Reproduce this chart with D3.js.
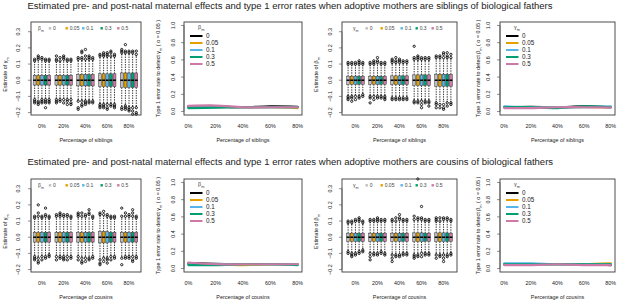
<!DOCTYPE html>
<html><head><meta charset="utf-8">
<script src="https://cdn.jsdelivr.net/npm/d3@7"></script>
<style>
body{margin:0;background:#fff}
svg{display:block}
text{font-family:"Liberation Sans",Arial,Helvetica,sans-serif;fill:#222}
</style>
</head><body>
<svg id="c" width="617" height="302"></svg>
<script>
// ---------------- DATA ----------------
const percentLabels = ["0%", "20%", "40%", "60%", "80%"];
const levels = ["0", "0.05", "0.1", "0.3", "0.5"];
const boxTicks = [-0.2, -0.1, 0.0, 0.1, 0.2, 0.3];
const errTicks = [0.0, 0.2, 0.4, 0.6, 0.8, 1.0];
const rowTitles = [
  "Estimated pre- and post-natal maternal effects and type 1 error rates when adoptive mothers are siblings of biological fathers",
  "Estimated pre- and post-natal maternal effects and type 1 error rates when adoptive mothers are cousins of biological fathers"
];
const rowXTitles = ["Percentage of siblings", "Percentage of cousins"];

// box stats per box (group-major, 5 levels each): [lowWhisker, q1, median, q3, highWhisker]
const sibGammaStats = [
  [-0.11,-0.03,0,0.03,0.11],[-0.11,-0.03,0,0.03,0.12],[-0.11,-0.03,0,0.03,0.12],[-0.11,-0.03,0,0.03,0.11],[-0.11,-0.03,0,0.03,0.11],
  [-0.11,-0.03,0,0.03,0.11],[-0.11,-0.03,0,0.03,0.11],[-0.11,-0.03,0,0.03,0.12],[-0.11,-0.03,0,0.03,0.11],[-0.11,-0.03,0,0.03,0.11],
  [-0.12,-0.035,0,0.035,0.12],[-0.12,-0.035,0,0.035,0.12],[-0.12,-0.035,0,0.035,0.12],[-0.12,-0.035,0,0.035,0.12],[-0.12,-0.035,0,0.035,0.12],
  [-0.14,-0.04,0,0.04,0.14],[-0.14,-0.04,0,0.04,0.14],[-0.14,-0.04,0,0.04,0.14],[-0.14,-0.04,0,0.04,0.14],[-0.14,-0.04,0,0.04,0.14],
  [-0.16,-0.045,0,0.045,0.16],[-0.15,-0.045,0,0.045,0.16],[-0.16,-0.045,0,0.045,0.16],[-0.16,-0.045,0,0.045,0.16],[-0.16,-0.045,0,0.045,0.15]
];
const sibGammaOut = [
  [0.12,0.13,-0.12,-0.13,-0.14],[0.13,0.14,0.15,-0.13,-0.14,-0.15],[0.13,0.14,-0.12,-0.13,-0.14],[0.12,0.13,-0.12,-0.13,-0.14,-0.17],[0.12,0.13,-0.12,-0.13,-0.14],
  [0.12,0.13,0.15,-0.12,-0.13,-0.14],[0.12,0.14,-0.12,-0.13],[0.13,0.14,0.15,-0.12,-0.14],[0.12,0.13,-0.12,-0.13,-0.15],[0.12,0.13,-0.12,-0.14,-0.15],
  [0.13,0.14,-0.13,-0.17,-0.18],[0.13,0.14,0.17,0.18,-0.13,-0.15,-0.16],[0.13,0.15,0.19,-0.13,-0.14,-0.15],[0.13,0.14,0.15,-0.13,-0.14],[0.13,0.14,-0.13,-0.14],
  [0.15,0.16,-0.15,-0.16,-0.17],[0.15,0.16,0.17,-0.15,-0.16,-0.17],[0.15,0.16,0.17,-0.15,-0.17,-0.18],[0.15,0.17,0.18,-0.15,-0.16],[0.15,0.16,-0.15,-0.16,-0.17],
  [0.17,0.18,0.19,-0.17,-0.18],[0.17,0.18,0.22,-0.16,-0.17,-0.18],[0.17,0.18,-0.17,-0.18,-0.19],[0.17,0.18,-0.17,-0.19,-0.21],[0.16,0.18,-0.17,-0.2,-0.21]
];
const sibBetaStats = [
  [-0.09,-0.025,0,0.025,0.09],[-0.09,-0.025,0,0.025,0.09],[-0.09,-0.025,0,0.025,0.09],[-0.09,-0.025,0,0.025,0.09],[-0.08,-0.025,0,0.025,0.09],
  [-0.09,-0.025,0,0.025,0.09],[-0.09,-0.025,0,0.025,0.09],[-0.09,-0.025,0,0.025,0.1],[-0.09,-0.025,0,0.025,0.09],[-0.09,-0.025,0,0.025,0.09],
  [-0.1,-0.027,0,0.027,0.1],[-0.1,-0.027,0,0.027,0.1],[-0.1,-0.027,0,0.027,0.1],[-0.1,-0.027,0,0.027,0.1],[-0.1,-0.027,0,0.027,0.1],
  [-0.12,-0.033,0,0.033,0.12],[-0.12,-0.033,0,0.033,0.12],[-0.12,-0.033,0,0.033,0.12],[-0.12,-0.033,0,0.033,0.12],[-0.12,-0.033,0,0.033,0.12],
  [-0.13,-0.037,0,0.037,0.13],[-0.13,-0.037,0,0.037,0.13],[-0.13,-0.037,0,0.037,0.13],[-0.13,-0.037,0,0.037,0.13],[-0.13,-0.037,0,0.037,0.13]
];
const sibBetaOut = [
  [0.1,0.11,-0.1,-0.11,-0.12],[0.1,0.11,-0.1,-0.11,-0.13],[0.1,0.11,-0.1,-0.12],[0.1,0.11,0.12,-0.1,-0.11],[0.1,0.11,-0.09,-0.1],
  [0.1,0.11,-0.1,-0.11,-0.14],[0.1,0.11,0.12,-0.1,-0.12],[0.11,0.12,0.14,-0.1,-0.11],[0.1,0.11,-0.1,-0.11],[0.1,0.11,-0.1,-0.11,-0.12],
  [0.11,0.12,0.13,-0.11,-0.12],[0.11,0.12,0.14,-0.11,-0.12],[0.11,0.12,0.13,-0.11,-0.12],[0.11,0.12,-0.11,-0.12],[0.11,0.12,-0.11,-0.12],
  [0.13,0.14,0.21,-0.13,-0.14],[0.13,0.14,0.15,-0.13,-0.14],[0.13,0.14,-0.13,-0.15,-0.17],[0.13,0.14,-0.13,-0.14],[0.13,0.14,-0.13,-0.14,-0.16],
  [0.14,0.15,-0.14,-0.15,-0.17],[0.14,0.15,-0.15,-0.17],[0.14,0.16,0.17,-0.15,-0.17,-0.18],[0.14,0.15,0.17,-0.14,-0.16],[0.14,0.16,-0.14,-0.15]
];
const cousGammaStats = [
  [-0.11,-0.03,0,0.03,0.11],[-0.12,-0.03,0,0.03,0.12],[-0.11,-0.03,0,0.03,0.11],[-0.11,-0.03,0,0.03,0.12],[-0.1,-0.03,0,0.03,0.11],
  [-0.11,-0.03,0,0.03,0.12],[-0.11,-0.03,0,0.03,0.12],[-0.11,-0.03,0,0.03,0.12],[-0.11,-0.03,0,0.03,0.12],[-0.11,-0.03,0,0.03,0.11],
  [-0.11,-0.03,0,0.03,0.12],[-0.12,-0.03,0,0.03,0.12],[-0.12,-0.03,0,0.03,0.12],[-0.12,-0.03,0,0.03,0.12],[-0.11,-0.03,0,0.03,0.11],
  [-0.13,-0.035,0,0.035,0.13],[-0.12,-0.035,0,0.035,0.13],[-0.12,-0.035,0,0.035,0.12],[-0.11,-0.03,0,0.03,0.11],[-0.11,-0.03,0,0.03,0.11],
  [-0.12,-0.03,0,0.03,0.12],[-0.11,-0.03,0,0.03,0.12],[-0.11,-0.03,0,0.03,0.12],[-0.11,-0.03,0,0.03,0.12],[-0.11,-0.03,0,0.03,0.11]
];
const cousGammaOut = [
  [0.12,0.13,-0.12,-0.13,-0.14],[0.13,0.15,0.2,-0.13,-0.15,-0.16],[0.12,0.13,-0.12,-0.14],[0.13,0.14,0.18,-0.12,-0.13],[0.12,0.13,-0.11,-0.12],
  [0.13,0.14,-0.12,-0.14],[0.13,0.14,0.15,-0.12,-0.13],[0.13,0.14,-0.12,-0.13,-0.14],[0.13,0.14,-0.12,-0.14],[0.12,0.13,-0.12,-0.13],
  [0.13,0.14,0.15,-0.12,-0.14],[0.13,0.15,-0.13,-0.15,-0.16],[0.13,0.14,-0.13,-0.15],[0.14,0.15,0.17,-0.13,-0.14],[0.12,0.13,-0.12,-0.13],
  [0.14,0.15,-0.14,-0.16,-0.17],[0.14,0.16,-0.13,-0.15],[0.13,0.14,-0.13,-0.14,-0.16],[0.12,0.13,-0.12,-0.14],[0.12,0.13,-0.12,-0.13],
  [0.13,0.18,-0.13,-0.17],[0.13,0.15,-0.12,-0.13],[0.13,0.14,-0.12,-0.13],[0.13,0.15,0.17,-0.12,-0.14,-0.15],[0.12,0.13,-0.12,-0.13]
];
const cousBetaStats = [
  [-0.08,-0.025,0,0.025,0.08],[-0.09,-0.025,0,0.025,0.08],[-0.09,-0.025,0,0.025,0.09],[-0.08,-0.025,0,0.025,0.09],[-0.07,-0.025,0,0.025,0.08],
  [-0.09,-0.025,0,0.025,0.09],[-0.09,-0.025,0,0.025,0.09],[-0.09,-0.025,0,0.025,0.09],[-0.08,-0.025,0,0.025,0.09],[-0.09,-0.025,0,0.025,0.09],
  [-0.1,-0.025,0,0.025,0.09],[-0.1,-0.025,0,0.025,0.09],[-0.1,-0.025,0,0.025,0.1],[-0.09,-0.025,0,0.025,0.09],[-0.09,-0.025,0,0.025,0.09],
  [-0.1,-0.027,0,0.027,0.1],[-0.1,-0.027,0,0.027,0.1],[-0.09,-0.027,0,0.027,0.1],[-0.09,-0.025,0,0.025,0.09],[-0.09,-0.025,0,0.025,0.09],
  [-0.1,-0.027,0,0.027,0.09],[-0.1,-0.027,0,0.027,0.09],[-0.1,-0.027,0,0.027,0.1],[-0.1,-0.027,0,0.027,0.1],[-0.09,-0.025,0,0.025,0.09]
];
const cousBetaOut = [
  [0.09,0.1,-0.09,-0.1],[0.09,0.1,-0.1,-0.11,-0.12],[0.1,0.11,-0.1,-0.11],[0.1,0.11,0.12,-0.09,-0.1],[0.09,0.1,-0.08,-0.09],
  [0.1,0.11,-0.1,-0.12,-0.14],[0.1,0.11,-0.1,-0.11],[0.1,0.11,0.12,-0.1,-0.11],[0.1,0.11,-0.09,-0.1],[0.1,0.11,-0.1,-0.11],
  [0.1,0.11,-0.11,-0.13,-0.15],[0.1,0.12,-0.11,-0.12],[0.11,0.12,0.14,-0.11,-0.12],[0.1,0.11,-0.1,-0.11],[0.1,0.11,-0.1,-0.11],
  [0.11,0.13,-0.11,-0.12,-0.13],[0.11,0.12,0.36,-0.11,-0.12],[0.11,0.12,0.19,-0.1,-0.12],[0.1,0.11,-0.1,-0.11],[0.1,0.11,-0.1,-0.11],
  [0.1,0.11,0.12,-0.11,-0.13],[0.1,0.12,-0.11,-0.12],[0.11,0.12,-0.11,-0.13,-0.15],[0.11,0.12,-0.11,-0.12],[0.1,0.11,-0.1,-0.11]
];

// type 1 error rates: one row per level, one value per percentage
const sibGammaErr = [
  [0.06,0.06,0.05,0.06,0.055],
  [0.05,0.05,0.05,0.05,0.04],
  [0.05,0.05,0.05,0.05,0.05],
  [0.04,0.045,0.05,0.05,0.05],
  [0.065,0.07,0.05,0.05,0.05]
];
const sibBetaErr = [
  [0.05,0.055,0.05,0.06,0.05],
  [0.05,0.05,0.05,0.05,0.05],
  [0.06,0.05,0.05,0.05,0.06],
  [0.05,0.05,0.04,0.06,0.05],
  [0.04,0.04,0.05,0.05,0.045]
];
const cousGammaErr = [
  [0.06,0.055,0.05,0.05,0.05],
  [0.05,0.05,0.04,0.05,0.05],
  [0.05,0.05,0.05,0.05,0.05],
  [0.04,0.04,0.05,0.05,0.04],
  [0.07,0.05,0.05,0.05,0.05]
];
const cousBetaErr = [
  [0.05,0.05,0.05,0.05,0.04],
  [0.05,0.05,0.05,0.05,0.06],
  [0.06,0.06,0.05,0.05,0.05],
  [0.05,0.05,0.05,0.05,0.05],
  [0.04,0.04,0.05,0.04,0.04]
];

// ---------------- STYLE / LAYOUT ----------------
const boxFill = ["#BEBEBE", "#E69F00", "#56B4E9", "#009E73", "#CC79A7"];
const lineCol = ["#000000", "#E69F00", "#56B4E9", "#009E73", "#CC79A7"];
const rowOffset = [0, 157];
const titleY = [8.5, 165];
const frameTop = 22, frameBot = 115;
const TICK_FS = 5.4, TITLE_AX_FS = 5.4;

const svg = d3.select("#c");
svg.append("rect").attr("width", 617).attr("height", 302).attr("fill", "#fff");

function symText(parent, base, sub, pre, post, fs) {
  const t = parent.append("text").style("font-size", fs + "px");
  t.append("tspan").text(pre + base);
  t.append("tspan").attr("dy", fs * 0.3).style("font-size", (fs * 0.72) + "px").text(sub);
  if (post) t.append("tspan").attr("dy", -fs * 0.3).text(post);
  return t;
}

function frame(g, x0, x1, y0, y1) {
  g.append("rect").attr("x", x0).attr("y", y0).attr("width", x1 - x0).attr("height", y1 - y0)
    .attr("fill", "none").attr("stroke", "#3a3a3a").attr("stroke-width", 0.9);
}

function yAxis(g, y, ticks, x0, labOff, fmt) {
  const a = g.append("g");
  a.append("line").attr("x1", x0).attr("x2", x0).attr("y1", y(ticks[0])).attr("y2", y(ticks[ticks.length - 1]))
    .attr("stroke", "#444").attr("stroke-width", 0.6);
  ticks.forEach(v => {
    a.append("line").attr("x1", x0 - 3).attr("x2", x0).attr("y1", y(v)).attr("y2", y(v))
      .attr("stroke", "#444").attr("stroke-width", 0.6);
    a.append("text").attr("transform", `translate(${x0 - labOff},${y(v)}) rotate(-90)`)
      .attr("text-anchor", "middle").style("font-size", TICK_FS + "px").text(fmt(v));
  });
}

function boxPanel(row, L, stats, outs, legSym, ySym, legOffs) {
  const dy = rowOffset[row];
  const y0 = frameTop + dy, y1 = frameBot + dy;
  const g = svg.append("g");
  const x = d3.scaleLinear().domain(L.dom).range([L.x0, L.x1]);
  const y = d3.scaleLinear().domain([-0.215, 0.36]).range([y1, y0]);
  stats.forEach((s, i) => {
    const gi = Math.floor(i / 5), bi = i % 5;
    const pos = gi * 6 + bi + 1;
    const cx = x(pos), hw = (x(pos + 0.4) - x(pos - 0.4)) / 2;
    [[s[3], s[4]], [s[1], s[0]]].forEach(([a, b]) => {
      g.append("line").attr("x1", cx).attr("x2", cx).attr("y1", y(a)).attr("y2", y(b))
        .attr("stroke", "#000").attr("stroke-width", 0.8).attr("stroke-dasharray", "1.4,1.1");
      g.append("line").attr("x1", cx - hw * 0.5).attr("x2", cx + hw * 0.5).attr("y1", y(b)).attr("y2", y(b))
        .attr("stroke", "#000").attr("stroke-width", 0.7);
    });
    g.append("rect").attr("x", cx - hw).attr("y", y(s[3])).attr("width", hw * 2).attr("height", y(s[1]) - y(s[3]))
      .attr("fill", boxFill[bi]).attr("stroke", "#333").attr("stroke-width", 0.5);
    g.append("line").attr("x1", cx - hw).attr("x2", cx + hw).attr("y1", y(s[2])).attr("y2", y(s[2]))
      .attr("stroke", "#000").attr("stroke-width", 1.5);
    outs[i].forEach(v => {
      g.append("circle").attr("cx", cx).attr("cy", y(v)).attr("r", 1.15)
        .attr("fill", "none").attr("stroke", "#000").attr("stroke-width", 0.85);
    });
  });
  frame(g, L.x0, L.x1, y0, y1);
  yAxis(g, y, boxTicks, L.x0, L.lab, d3.format(".1f"));
  symText(g, ySym, "m", "Estimate of ", "", TITLE_AX_FS)
    .attr("text-anchor", "middle")
    .attr("transform", `translate(${L.x0 - L.ttl},${(y0 + y1) / 2 + 6}) rotate(-90)`);
  percentLabels.forEach((p, gi) => {
    g.append("text").attr("x", x(gi * 6 + 3)).attr("y", y1 + 13).attr("text-anchor", "middle")
      .style("font-size", TICK_FS + "px").text(p);
  });
  g.append("text").attr("x", (L.x0 + L.x1) / 2).attr("y", y1 + 27).attr("text-anchor", "middle")
    .style("font-size", TITLE_AX_FS + "px").text(rowXTitles[row]);
  const ly = y0 + 6.3;
  symText(g, legSym, "m", "", "", 5).attr("x", L.x0 + legOffs[0]).attr("y", ly + 1.8).style("fill", "#444");
  levels.forEach((lv, k) => {
    const lx = L.x0 + legOffs[k + 1];
    g.append("rect").attr("x", lx - 1.2).attr("y", ly - 1.2).attr("width", 2.4).attr("height", 2.4).attr("fill", boxFill[k]);
    g.append("text").attr("x", lx + 3).attr("y", ly + 1.8).style("font-size", "5px").style("fill", "#444").text(lv);
  });
}

function errPanel(row, L, series, legSym, ySym) {
  const dy = rowOffset[row];
  const y0 = frameTop + dy, y1 = frameBot + dy;
  const g = svg.append("g");
  const x = d3.scaleLinear().domain([-0.16, 4.16]).range([L.x0, L.x1]);
  const y = d3.scaleLinear().domain([-0.04, 1.04]).range([y1, y0]);
  const line = d3.line().x((d, i) => x(i)).y(d => y(d)).curve(d3.curveCatmullRom);
  series.forEach((s, k) => {
    g.append("path").attr("d", line(s)).attr("fill", "none").attr("stroke", lineCol[k])
      .attr("stroke-width", 2.2).attr("stroke-linecap", "round");
  });
  frame(g, L.x0, L.x1, y0, y1);
  yAxis(g, y, errTicks, L.x0, L.lab, d3.format(".1f"));
  const yt = g.append("text").style("font-size", TITLE_AX_FS + "px").attr("text-anchor", "middle")
    .attr("transform", `translate(${L.x0 - L.ttl},${(y0 + y1) / 2}) rotate(-90)`);
  yt.append("tspan").text("Type 1 error rate to detect " + ySym);
  yt.append("tspan").attr("dy", 1.6).style("font-size", "3.9px").text("m");
  yt.append("tspan").attr("dy", -1.6).text(" ( α = 0.05 )");
  percentLabels.forEach((p, i) => {
    g.append("text").attr("x", x(i)).attr("y", y1 + 13).attr("text-anchor", "middle")
      .style("font-size", TICK_FS + "px").text(p);
  });
  g.append("text").attr("x", (L.x0 + L.x1) / 2).attr("y", y1 + 27).attr("text-anchor", "middle")
    .style("font-size", TITLE_AX_FS + "px").text(rowXTitles[row]);
  symText(g, legSym, "m", "", "", 5.5).attr("x", L.x0 + 14).attr("y", y0 + 7).style("fill", "#444");
  levels.forEach((lv, k) => {
    const ry = y0 + 14 + k * 7;
    g.append("line").attr("x1", L.x0 + 6).attr("x2", L.x0 + 18.5).attr("y1", ry).attr("y2", ry)
      .attr("stroke", lineCol[k]).attr("stroke-width", 2);
    g.append("text").attr("x", L.x0 + 22).attr("y", ry + 2.2).style("font-size", "6.3px").text(lv);
  });
}

const LA = {x0: 31, x1: 141, dom: [0.0, 30.3], lab: 11, ttl: 24};
const LB = {x0: 184, x1: 302, lab: 9, ttl: 24};
const LC = {x0: 342, x1: 457, dom: [-0.66, 30.66], lab: 10, ttl: 24};
const LD = {x0: 500, x1: 615, lab: 10, ttl: 20};
const legA = [7, 19, 35.7, 52.3, 70.7, 87.3];
const legC = [11, 24.7, 39.7, 59.7, 74.7, 90.7];

boxPanel(0, LA, sibGammaStats, sibGammaOut, "β", "γ", legA);
errPanel(0, LB, sibGammaErr, "β", "γ");
boxPanel(0, LC, sibBetaStats, sibBetaOut, "γ", "β", legC);
errPanel(0, LD, sibBetaErr, "γ", "β");
boxPanel(1, LA, cousGammaStats, cousGammaOut, "β", "γ", legA);
errPanel(1, LB, cousGammaErr, "β", "γ");
boxPanel(1, LC, cousBetaStats, cousBetaOut, "γ", "β", legC);
errPanel(1, LD, cousBetaErr, "γ", "β");

rowTitles.forEach((t, r) => {
  const tx = svg.append("text").attr("x", 27.5).attr("y", titleY[r]).style("font-size", "10px").text(t);
  const w = tx.node().getComputedTextLength();
  tx.style("font-size", (10 * 526 / w) + "px");
});
</script>
</body></html>
